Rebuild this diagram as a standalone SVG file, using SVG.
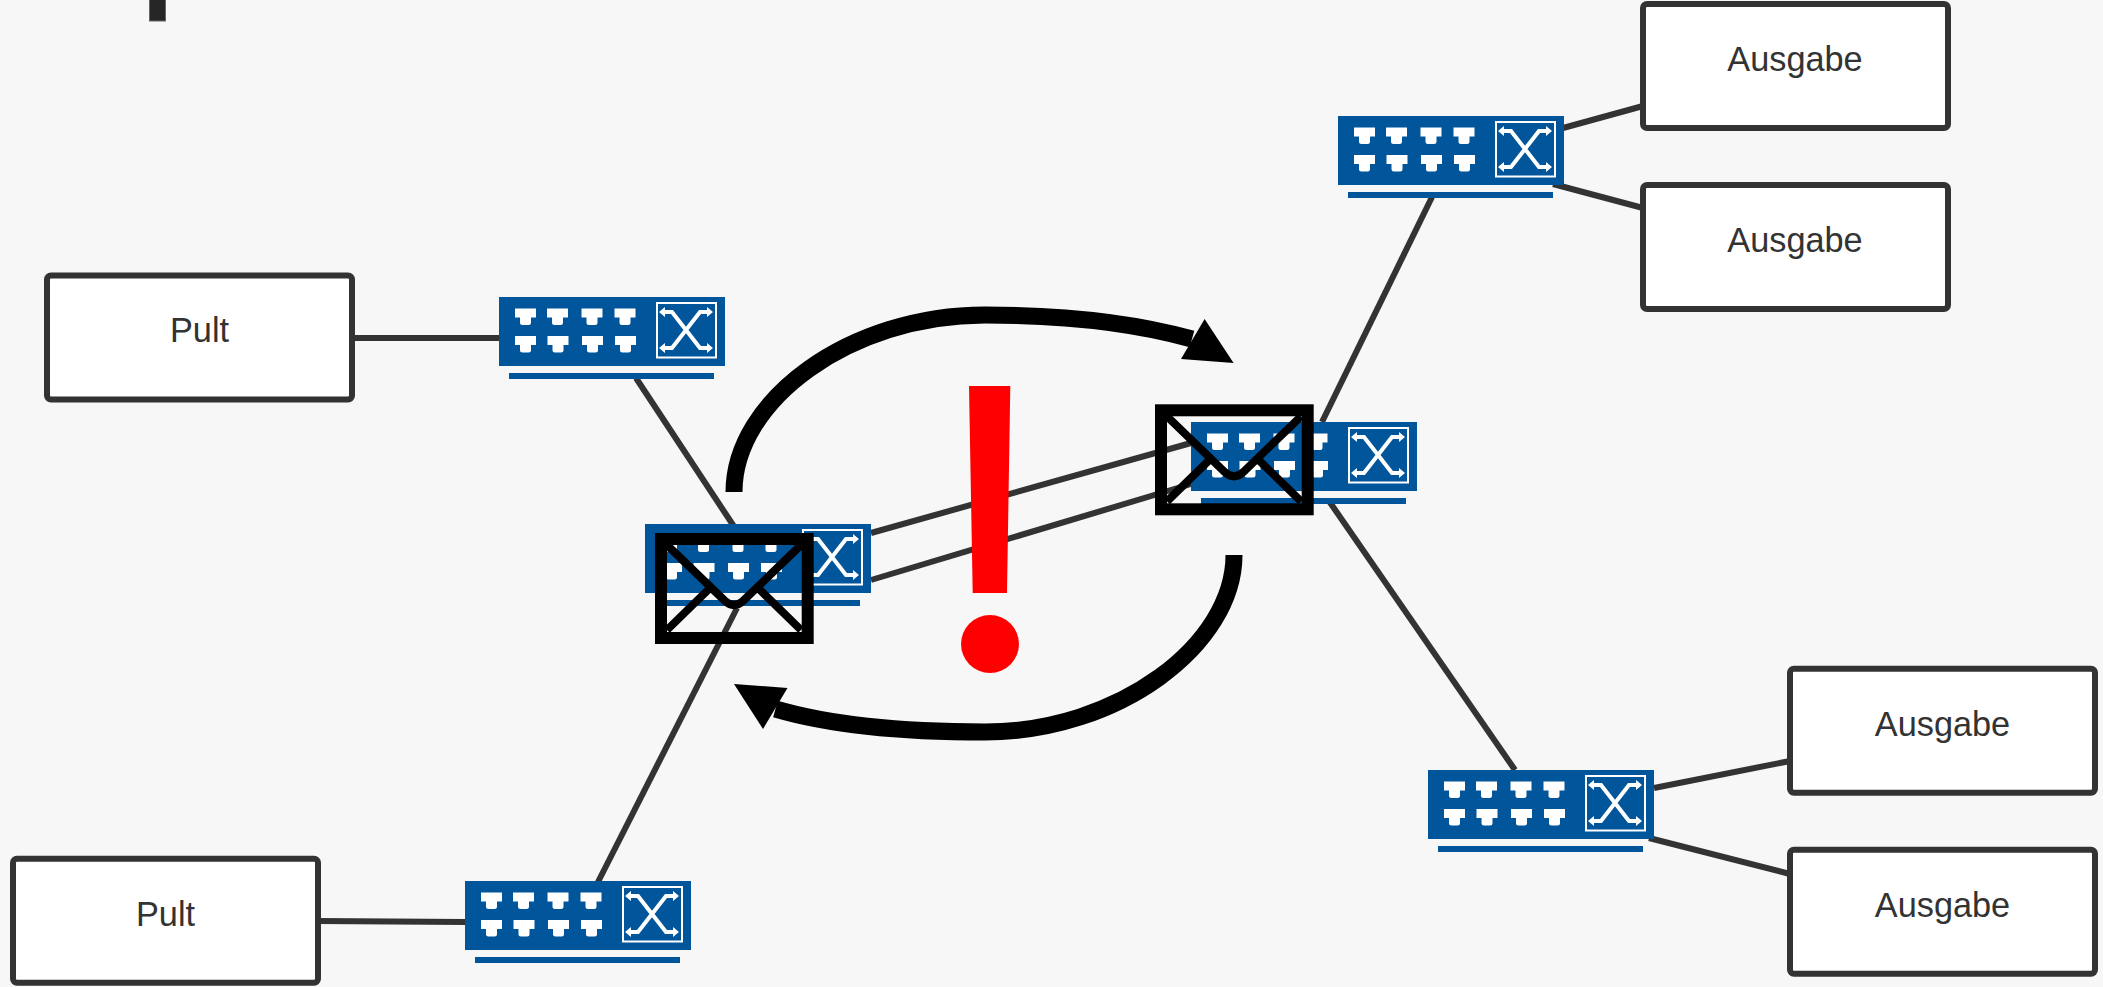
<svg xmlns="http://www.w3.org/2000/svg" xmlns:xlink="http://www.w3.org/1999/xlink" width="2103" height="987" viewBox="0 0 2103 987">
<style>
.box{fill:#fff;stroke:#333;stroke-width:6}
.lbl{font-family:"Liberation Sans",Arial,sans-serif;font-size:34.300px;fill:#333;text-anchor:middle}
.c{fill:none;stroke:#333;stroke-width:6}
.sw{fill:#00559b}
.w{fill:#fff}
.xl{fill:none;stroke:#fff;stroke-width:4}
.env{fill:none;stroke:#000;stroke-width:12}
.envl{fill:none;stroke:#000;stroke-width:8}
.flow{fill:none;stroke:#000;stroke-width:17}
</style>
<defs>
<path id="port" class="w" d="M0 0H21V9H16V14Q16 16.500 13.500 16.500H7.500Q5 16.500 5 14V9H0Z"/>
<g id="switch">
<rect class="sw" width="226" height="69"/>
<rect class="sw" x="10" y="76" width="205" height="6"/>
<use xlink:href="#port" x="16" y="11.500"/><use xlink:href="#port" x="48" y="11.500"/><use xlink:href="#port" x="82.500" y="11.500"/><use xlink:href="#port" x="115.500" y="11.500"/>
<use xlink:href="#port" x="16" y="39"/><use xlink:href="#port" x="48.500" y="39"/><use xlink:href="#port" x="83" y="39"/><use xlink:href="#port" x="116" y="39"/>
<rect x="158" y="6" width="59" height="54.500" fill="none" stroke="#fff" stroke-width="2"/>
<path class="xl" d="M165 15H173L201 51H209M209 15H201L173 51H165"/>
<path class="w" d="M160 15l6-5v10ZM214 15l-6-5v10ZM160 51l6-5v10ZM214 51l-6-5v10Z"/>
</g>
<g id="envelope">
<rect class="env" x="6" y="6" width="146.700" height="99"/>
<path class="envl" d="M12 12L70 68Q79 76 88 68L146 12M12 97L55 55M146 97L103 55"/>
</g>
</defs>
<rect width="2103" height="987" fill="#f7f7f7"/>
<rect x="149.500" y="-5" width="16" height="26" fill="#262626" stroke="#666" stroke-width="1"/>
<g id="connectors">
<path class="c" d="M352 338H499"/>
<path class="c" d="M636 378L735 528"/>
<path class="c" d="M318 921L465 922"/>
<path class="c" d="M598 882L737 608"/>
<path class="c" d="M871 533L1191 443"/>
<path class="c" d="M871 580L1191 484"/>
<path class="c" d="M1322 422L1432 197"/>
<path class="c" d="M1329 501L1515 770"/>
<path class="c" d="M1563 128L1643 106"/>
<path class="c" d="M1553 184L1643 208"/>
<path class="c" d="M1654 788L1790 761"/>
<path class="c" d="M1649 838L1790 874"/>
</g>
<g id="sw1"><use xlink:href="#switch" x="499" y="297"/></g>
<g id="sw2"><use xlink:href="#switch" x="645" y="524"/></g>
<g id="sw3"><use xlink:href="#switch" x="1191" y="422"/></g>
<g id="sw4"><use xlink:href="#switch" x="1338" y="116"/></g>
<g id="sw5"><use xlink:href="#switch" x="1428" y="770"/></g>
<g id="sw6"><use xlink:href="#switch" x="465" y="881"/></g>
<g id="pult1"><rect class="box" x="47" y="275.500" width="305" height="124" rx="4"/><text class="lbl" x="199.500" y="342">Pult</text></g>
<g id="pult2"><rect class="box" x="13" y="858.700" width="305" height="124" rx="4"/><text class="lbl" x="165.500" y="926">Pult</text></g>
<g id="out1"><rect class="box" x="1643" y="4" width="305" height="124" rx="4"/><text class="lbl" x="1795" y="71">Ausgabe</text></g>
<g id="out2"><rect class="box" x="1643" y="185" width="305" height="124" rx="4"/><text class="lbl" x="1795" y="252">Ausgabe</text></g>
<g id="out3"><rect class="box" x="1790" y="668.700" width="305" height="124" rx="4"/><text class="lbl" x="1942.500" y="736">Ausgabe</text></g>
<g id="out4"><rect class="box" x="1790" y="849.700" width="305" height="124" rx="4"/><text class="lbl" x="1942.500" y="917">Ausgabe</text></g>
<g id="mail1"><use xlink:href="#envelope" x="655" y="533"/></g>
<g id="mail2"><use xlink:href="#envelope" x="1155" y="404.300"/></g>
<g id="flows">
<path class="flow" d="M734 492C734 400 850 315 985 315C1070 315 1135 323 1192 339"/>
<path d="M1233.600 363L1181 359L1204.600 319Z"/>
<path class="flow" d="M1234 555C1234 645 1118 732 985 732C900 732 830 725 775.500 709"/>
<path d="M734 684L787.500 688L763 729Z"/>
</g>
<g id="alert">
<path fill="#f00" d="M969 386H1010.300L1007 593H972.700Z"/>
<circle cx="990" cy="644" r="29" fill="#f00"/>
</g>
</svg>
